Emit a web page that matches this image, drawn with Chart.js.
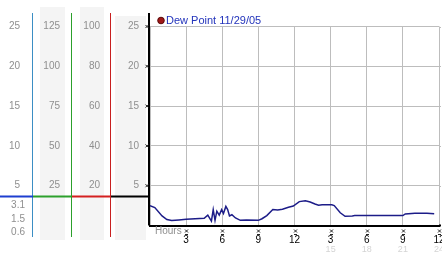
<!DOCTYPE html>
<html>
<head>
<meta charset="utf-8">
<script src="https://cdn.jsdelivr.net/npm/chart.js@4"></script>
<style>
  html, body { margin: 0; padding: 0; background: #fff; }
  #wrap { width: 442px; height: 253px; }
</style>
</head>
<body>
<div id="wrap"><canvas id="dewChart" width="442" height="253"></canvas></div>
<script>
// Dew point readings, hours since midnight
const dewHours = [0, 0.4, 1.0, 1.4, 1.8, 2.4, 3.0, 4.5, 4.8, 5.1, 5.25, 5.4, 5.55, 5.75, 5.95, 6.1, 6.3, 6.45, 6.6, 6.8,
  7.1, 7.5, 8.0, 9.0, 9.3, 9.7, 10.2, 10.6, 11.0, 11.5, 11.9, 12.4, 12.9, 13.3, 13.7, 14.0, 14.3, 15.1, 15.3, 15.8,
  16.2, 16.8, 17.0, 21.0, 21.2, 22.0, 23.0, 23.6];
const dewPoint = [2.5, 2.25, 1.2, 0.75, 0.62, 0.7, 0.8, 0.9, 1.3, 0.55, 2.0, 0.65, 1.8, 1.3, 2.0, 1.5, 2.4, 2.0, 1.2, 1.35,
  0.95, 0.65, 0.7, 0.65, 0.85, 1.25, 2.0, 1.95, 2.05, 2.3, 2.45, 3.0, 3.1, 2.95, 2.7, 2.55, 2.6, 2.6, 2.5, 1.6,
  1.15, 1.2, 1.25, 1.25, 1.45, 1.55, 1.55, 1.47];

// tick labels
const hourTicks = ['', '3', '6', '9', '12', '3', '6', '9', '12'];
const dayHourTicks = ['', '', '', '', '', '15', '18', '21', '24'];
const dewTicks = ['', '5', '10', '15', '20', '25'];
const scaleGTicks = ['', '20', '40', '60', '80', '100'];
const scaleFTicks = ['', '25', '50', '75', '100', '125'];
const scaleCTicks = ['', '5', '10', '15', '20', '25'];
const lowScaleTicks = ['3.1', '1.5', '0.6'];

const font = { family: 'Liberation Sans', size: 10 };
const grayText = '#8f8f8f';
const gridColor = '#bdbdbd';

function fixWidth(w) {
  return (s) => { s.width = w; s.paddingTop = 0; s.paddingBottom = 0; };
}

// draws the side panels, the legend and the small tick marks
const panels = {
  id: 'panels',
  beforeDraw(chart) {
    const ctx = chart.ctx;
    const s = chart.scales;
    ctx.save();
    ctx.fillStyle = '#fff';
    ctx.fillRect(0, 0, chart.width, chart.height);
    ctx.fillStyle = '#f4f4f4';
    ctx.fillRect(s.yF.left + 7, 7, s.yF.width - 14, 233);
    ctx.fillRect(s.yG.left + 8, 7, s.yG.width - 15, 233);
    ctx.fillRect(s.y.left + 4, 16, s.y.width - 8, 224);
    ctx.restore();
  },
  afterDraw(chart) {
    const ctx = chart.ctx;
    const s = chart.scales;
    const area = chart.chartArea;
    ctx.save();

    // grid and axis run on a little past the last hour
    ctx.lineWidth = 1;
    ctx.strokeStyle = gridColor;
    s.y.ticks.forEach((t) => {
      if (!t.value) return;
      const y = Math.round(s.y.getPixelForValue(t.value)) + 0.5;
      ctx.beginPath();
      ctx.moveTo(area.right, y);
      ctx.lineTo(area.right + 2, y);
      ctx.stroke();
    });
    ctx.strokeStyle = '#000';
    ctx.lineWidth = 2;
    ctx.beginPath();
    ctx.moveTo(area.right, area.bottom);
    ctx.lineTo(area.right + 2, area.bottom);
    ctx.stroke();

    // coloured column separators
    const cols = [[s.yC, '#3b8ec4', '#1e3fd0'], [s.yF, '#2ca02c', '#2ca02c'], [s.yG, '#c82020', '#d42020'], [s.y, '#000', '#000']];
    const splitY = 196.5;
    cols.forEach(([sc, vColor, hColor]) => {
      if (sc !== s.y) {
        ctx.strokeStyle = vColor;
        ctx.lineWidth = 1;
        ctx.beginPath();
        ctx.moveTo(Math.round(sc.right) - 0.5, 13);
        ctx.lineTo(Math.round(sc.right) - 0.5, 237);
        ctx.stroke();
      }
      ctx.strokeStyle = hColor;
      ctx.lineWidth = 2;
      ctx.beginPath();
      ctx.moveTo(sc.left, splitY);
      ctx.lineTo(sc.right, splitY);
      ctx.stroke();
    });

    // y axis runs up past the plot
    ctx.strokeStyle = '#000';
    ctx.lineWidth = 2;
    ctx.beginPath();
    ctx.moveTo(area.left - 1, 13);
    ctx.lineTo(area.left - 1, area.bottom);
    ctx.stroke();

    // small tick marks
    ctx.lineWidth = 1;
    ctx.strokeStyle = '#222';
    s.y.ticks.forEach((t) => {
      if (!t.value) return;
      const y = s.y.getPixelForValue(t.value);
      ctx.beginPath();
      ctx.moveTo(area.left - 4.5, y - 1.5); ctx.lineTo(area.left - 1.5, y + 1.5);
      ctx.moveTo(area.left - 4.5, y + 1.5); ctx.lineTo(area.left - 1.5, y - 1.5);
      ctx.stroke();
    });
    s.x.ticks.forEach((t) => {
      if (!t.value) return;
      const x = Math.round(s.x.getPixelForValue(t.value)) + 0.5;
      ctx.beginPath();
      ctx.moveTo(x - 1.5, 229.5); ctx.lineTo(x + 1.5, 232.5);
      ctx.moveTo(x - 1.5, 232.5); ctx.lineTo(x + 1.5, 229.5);
      ctx.moveTo(x - 1.5, 234.5); ctx.lineTo(x + 1.5, 234.5);
      ctx.stroke();
    });

    // texts
    ctx.font = '10px "Liberation Sans"';
    ctx.fillStyle = grayText;
    ctx.textBaseline = 'middle';
    ctx.textAlign = 'left';
    ctx.fillText('Hours', area.left + 5, 231.5);
    ctx.textAlign = 'right';
    [205, 219.5, 232.5].forEach((y, i) => ctx.fillText(lowScaleTicks[i], 25, y));

    // legend
    const ds = chart.data.datasets[0];
    ctx.fillStyle = '#a01818';
    ctx.strokeStyle = '#5a0a0a';
    ctx.beginPath();
    ctx.arc(area.left + 11, 20.5, 3.3, 0, Math.PI * 2);
    ctx.fill();
    ctx.stroke();
    ctx.font = '11px "Liberation Sans"';
    ctx.fillStyle = '#2233bb';
    ctx.textAlign = 'left';
    ctx.fillText(ds.label, area.left + 16, 20.5);
    ctx.restore();
  }
};

const ctx = document.getElementById('dewChart').getContext('2d');
const dewChart = new Chart(ctx, {
  type: 'line',
  data: {
    datasets: [
      {
        label: 'Dew Point 11/29/05',
        data: dewHours.map((h, i) => ({ x: h, y: dewPoint[i] })),
        borderColor: '#1c1c88',
        borderWidth: 1.5,
        pointRadius: 0,
        tension: 0,
      },
    ],
  },
  options: {
    responsive: false,
    animation: false,
    devicePixelRatio: 1,
    layout: { autoPadding: false, padding: { top: 26.5, right: 3, bottom: 0, left: 0 } },
    plugins: { legend: { display: false }, tooltip: { enabled: false } },
    scales: {
      x: {
        type: 'linear', position: 'bottom', weight: 0, min: 0, max: 24,
        ticks: { stepSize: 3, autoSkip: false, maxRotation: 0, color: '#000', font, padding: 9,
          callback: (v, i) => hourTicks[i] },
        grid: { color: gridColor, drawTicks: false },
        border: { color: '#000', width: 2 },
        afterFit: (s) => { s.height = 19; s.paddingLeft = 0; s.paddingRight = 0; },
      },
      x2: {
        type: 'linear', position: 'bottom', weight: 1, min: 0, max: 24,
        ticks: { stepSize: 3, autoSkip: false, maxRotation: 0, color: '#d4d4d4',
          font: { family: 'Liberation Sans', size: 9 }, padding: 0,
          callback: (v, i) => dayHourTicks[i] },
        grid: { display: false, drawTicks: false },
        border: { display: false },
        afterFit: (s) => { s.height = 8.5; s.paddingLeft = 0; s.paddingRight = 0; },
      },
      y: {
        position: 'left', weight: 0, min: 0, max: 25,
        ticks: { stepSize: 5, padding: 11, color: grayText, font, callback: (v, i) => dewTicks[i] },
        grid: { color: gridColor, drawTicks: false },
        border: { display: false },
        afterFit: fixWidth(39),
      },
      yG: {
        position: 'left', weight: 1, min: 0, max: 100,
        ticks: { stepSize: 20, padding: 11, color: grayText, font, callback: (v, i) => scaleGTicks[i] },
        grid: { display: false, drawTicks: false },
        border: { display: false },
        afterFit: fixWidth(39),
      },
      yF: {
        position: 'left', weight: 2, min: 0, max: 125,
        ticks: { stepSize: 25, padding: 12, color: grayText, font, callback: (v, i) => scaleFTicks[i] },
        grid: { display: false, drawTicks: false },
        border: { display: false },
        afterFit: fixWidth(39),
      },
      yC: {
        position: 'left', weight: 3, min: 0, max: 25,
        ticks: { stepSize: 5, padding: 13, color: grayText, font, callback: (v, i) => scaleCTicks[i] },
        grid: { display: false, drawTicks: false },
        border: { display: false },
        afterFit: fixWidth(33),
      },
    },
  },
  plugins: [panels],
});
</script>
</body>
</html>
